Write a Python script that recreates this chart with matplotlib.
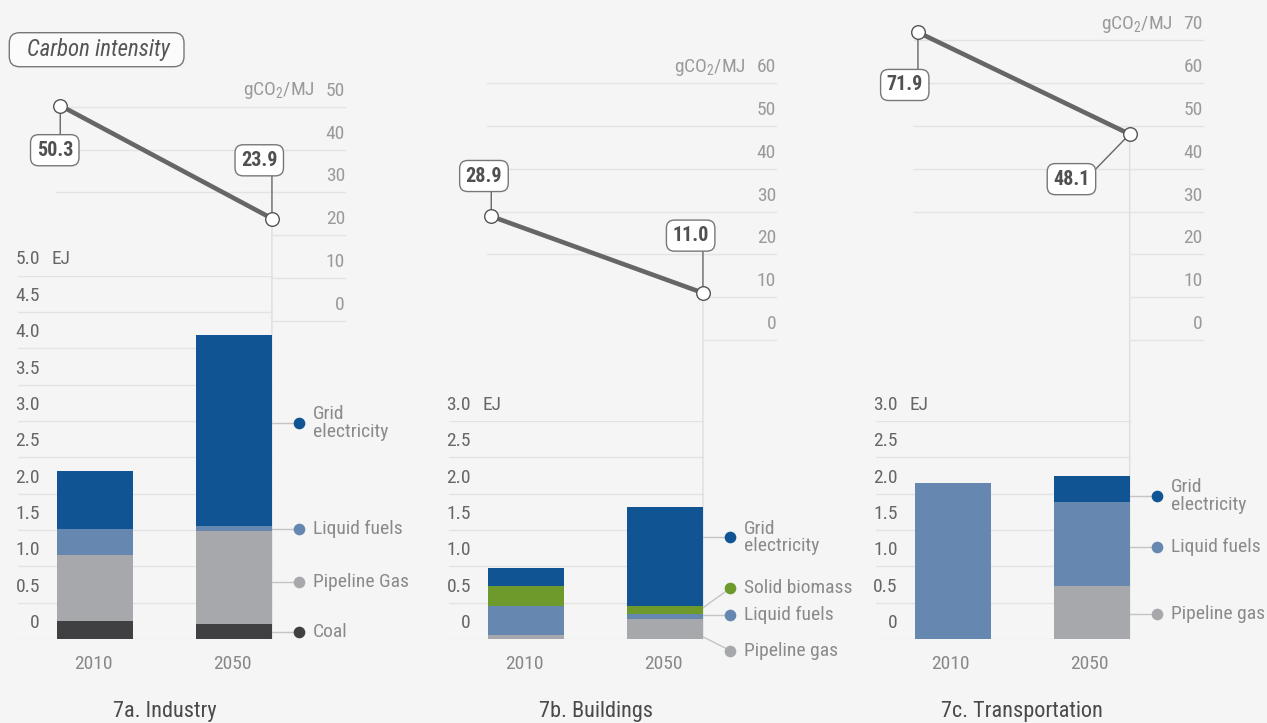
import matplotlib
matplotlib.use('Agg')
import matplotlib.pyplot as plt
from matplotlib import font_manager as fm
from matplotlib.patches import FancyBboxPatch, ConnectionPatch
import matplotlib.transforms as mtransforms

# ---------------- data ----------------
years = ['2010', '2050']

industry_coal = [0.25, 0.21]
industry_gas = [0.905, 1.275]
industry_liquid = [0.36, 0.07]
industry_grid = [0.80, 2.62]
industry_intensity = [50.3, 23.9]

buildings_gas = [0.055, 0.28]
buildings_liquid = [0.40, 0.07]
buildings_biomass = [0.27, 0.105]
buildings_grid = [0.25, 1.36]
buildings_intensity = [28.9, 11.0]

transport_gas = [0.0, 0.73]
transport_liquid = [2.14, 1.155]
transport_grid = [0.0, 0.36]
transport_intensity = [71.9, 48.1]

panel_titles = ['7a. Industry', '7b. Buildings', '7c. Transportation']
energy_ticks_a = [0, 0.5, 1.0, 1.5, 2.0, 2.5, 3.0, 3.5, 4.0, 4.5, 5.0]
energy_ticks_bc = [0, 0.5, 1.0, 1.5, 2.0, 2.5, 3.0]
intensity_ticks_a = [0, 10, 20, 30, 40, 50]
intensity_ticks_b = [0, 10, 20, 30, 40, 50, 60]
intensity_ticks_c = [0, 10, 20, 30, 40, 50, 60, 70]

# ---------------- style ----------------
BG = '#f5f5f5'
C_GRID = '#115493'
C_LIQ = '#6687b0'
C_GAS = '#a7a8ab'
C_COAL = '#404042'
C_BIO = '#6e9a2b'
GRIDLINE = '#e3e3e3'


def pick_font():
    for name in ['Liberation Sans Narrow', 'Roboto Condensed']:
        try:
            fm.findfont(fm.FontProperties(family=name), fallback_to_default=False)
            return name, 1.0
        except Exception:
            pass
    return 'Roboto', 0.85


FONT, FS = pick_font()
plt.rcParams['font.family'] = [FONT, 'DejaVu Sans']
plt.rcParams['mathtext.default'] = 'regular'

W, H = 1267, 723
fig = plt.figure(figsize=(W / 100, H / 100), dpi=100, facecolor=BG)

PX_EJ = 72.7       # pixels per EJ
PX_I = 4.28        # pixels per gCO2/MJ
PX_CAT = 139.0     # pixels per category step
X_LEFT = -0.554
BAR_W = 0.547
BAR_AX_W = 255
LINE_AX_W = 327
BOTTOM = 639


def place(left, top, width, height):
    return fig.add_axes([left / W, 1 - (top + height) / H, width / W, height / H])


def clean(ax):
    ax.set_facecolor('none')
    for s in ax.spines.values():
        s.set_visible(False)
    ax.set_xticks([])
    ax.set_yticks([])


panels = [
    dict(x0=18, ymax=5.0, eticks=energy_ticks_a, yzero=320.8, iticks=intensity_ticks_a,
         full_min=30, intensity=industry_intensity, title=panel_titles[0],
         stack=[(industry_coal, C_COAL), (industry_gas, C_GAS),
                (industry_liquid, C_LIQ), (industry_grid, C_GRID)],
         legend=[('Grid\nelectricity', C_GRID, 2.97, 2.97),
                 ('Liquid fuels', C_LIQ, 1.517, 1.517),
                 ('Pipeline Gas', C_GAS, 0.79, 0.79),
                 ('Coal', C_COAL, 0.096, 0.096)],
         boxes=[((-5.5, -44.7), (0, -44.7)), ((-12.7, 58.2), (0, 58.2))]),
    dict(x0=449, ymax=3.0, eticks=energy_ticks_bc, yzero=340, iticks=intensity_ticks_b,
         full_min=20, intensity=buildings_intensity, title=panel_titles[1],
         stack=[(buildings_gas, C_GAS), (buildings_liquid, C_LIQ),
                (buildings_biomass, C_BIO), (buildings_grid, C_GRID)],
         legend=[('Grid\nelectricity', C_GRID, 1.40, 1.40),
                 ('Solid biomass', C_BIO, 0.70, 0.43),
                 ('Liquid fuels', C_LIQ, 0.33, 0.33),
                 ('Pipeline gas', C_GAS, -0.16, 0.03)],
         boxes=[((-7.3, 40.3), (0, 40.3)), ((-12.3, 57.3), (0, 57.3))]),
    dict(x0=875.7, ymax=3.0, eticks=energy_ticks_bc, yzero=340, iticks=intensity_ticks_c,
         full_min=30, intensity=transport_intensity, title=panel_titles[2],
         stack=[(transport_gas, C_GAS), (transport_liquid, C_LIQ),
                (transport_grid, C_GRID)],
         legend=[('Grid\nelectricity', C_GRID, 1.967, 1.967),
                 ('Liquid fuels', C_LIQ, 1.27, 1.27),
                 ('Pipeline gas', C_GAS, 0.344, 0.344)],
         boxes=[((-13.2, -52.7), (0, -52.7)), ((-58.2, -45.0), (-42, -43.2))]),
]

X_PT = [-0.25, 1.273]   # horizontal anchor of the intensity points
X_RIGHT_EDGE = 1.0 + BAR_W / 2
DOT_X = 1.47
TXT_X = 1.57

for p in panels:
    x0 = p['x0']
    ymax = p['ymax']
    hb = ymax * PX_EJ
    axb = place(x0, BOTTOM - hb, BAR_AX_W, hb)
    clean(axb)
    axb.set_xlim(X_LEFT, X_LEFT + BAR_AX_W / PX_CAT)
    axb.set_ylim(0, ymax)
    tb = mtransforms.blended_transform_factory(axb.transAxes, axb.transData)

    for v in p['eticks']:
        axb.axhline(v, color=GRIDLINE, lw=1, zorder=0)
        lab = '0' if v == 0 else f'{v:.1f}'
        axb.annotate(lab, xy=(0.086, v), xycoords=tb, xytext=(0, 16),
                     textcoords='offset pixels', ha='right', va='center',
                     fontsize=14 * FS, color='#666666', annotation_clip=False)
    axb.annotate('EJ', xy=(0.131, ymax), xycoords=tb, xytext=(0, 16),
                 textcoords='offset pixels', ha='left', va='center',
                 fontsize=14 * FS, color='#666666', annotation_clip=False)

    xs = list(range(len(years)))
    bottoms = [0.0] * len(years)
    for vals, col in p['stack']:
        axb.bar(xs, vals, width=BAR_W, bottom=bottoms, color=col, zorder=2, linewidth=0)
        bottoms = [b + v for b, v in zip(bottoms, vals)]

    for i, yr in enumerate(years):
        axb.annotate(yr, xy=(i, 0), xytext=(-2, -25), textcoords='offset pixels',
                     ha='center', va='center', fontsize=14 * FS, color='#888888',
                     annotation_clip=False)
    axb.annotate(p['title'], xy=(0.5, 0), xytext=(0, -72), textcoords='offset pixels',
                 ha='center', va='center', fontsize=16 * FS, color='#4a4a4a',
                 annotation_clip=False)

    for lab, col, ylab, yfrom in p['legend']:
        axb.plot([X_RIGHT_EDGE, DOT_X], [yfrom, ylab], color='#c4c4c4', lw=1,
                 clip_on=False, zorder=1)
        axb.plot([DOT_X], [ylab], 'o', ms=8.4, color=col, mec='none',
                 clip_on=False, zorder=3)
        axb.text(TXT_X, ylab, lab, ha='left', va='center', fontsize=14 * FS,
                 color='#8a8a8a', linespacing=0.95, clip_on=False)

    # ---- intensity line axes ----
    imax = p['iticks'][-1]
    hl = imax * PX_I
    axl = place(x0, p['yzero'] - hl, LINE_AX_W, hl)
    clean(axl)
    xr_lim = X_LEFT + LINE_AX_W / PX_CAT
    axl.set_xlim(X_LEFT, xr_lim)
    axl.set_ylim(0, imax)
    tl = mtransforms.blended_transform_factory(axl.transAxes, axl.transData)
    for v in p['iticks']:
        start = -0.28 if v >= p['full_min'] else X_PT[1]
        axl.plot([start, xr_lim], [v, v], color=GRIDLINE, lw=1, zorder=0, clip_on=False)
        axl.annotate(str(v), xy=(1.0, v), xycoords=tl, xytext=(0, 16),
                     textcoords='offset pixels', ha='right', va='center',
                     fontsize=14 * FS, color='#9a9a9a', annotation_clip=False)
    axl.annotate('gCO$_2$/MJ', xy=(0.908, imax), xycoords=tl, xytext=(0, 16),
                 textcoords='offset pixels', ha='right', va='center',
                 fontsize=14 * FS, color='#9a9a9a', annotation_clip=False)

    vals = p['intensity']
    con = ConnectionPatch(xyA=(X_PT[1], vals[1]), coordsA=axl.transData,
                          xyB=(X_PT[1], 0), coordsB=axb.transData,
                          color='#dedede', lw=1, zorder=0)
    axb.add_artist(con)

    axl.plot(X_PT, vals, color='#666666', lw=3.3, solid_capstyle='butt',
             zorder=3, clip_on=False)
    for i, v in enumerate(vals):
        (bdx, bdy), (cdx, cdy) = p['boxes'][i]
        axl.annotate('', xy=(X_PT[i], v), xytext=(cdx, cdy), textcoords='offset pixels',
                     arrowprops=dict(arrowstyle='-', color='#666666', lw=1,
                                     shrinkA=0, shrinkB=0),
                     annotation_clip=False, zorder=2)
        axl.annotate(f'{v:.1f}', xy=(X_PT[i], v), xytext=(bdx, bdy),
                     textcoords='offset pixels', ha='center', va='center',
                     fontsize=14.5 * FS, fontweight='bold', color='#505050',
                     bbox=dict(boxstyle='round,pad=0.3,rounding_size=0.4',
                               fc='white', ec='#777777', lw=1),
                     annotation_clip=False, zorder=5)
    axl.plot(X_PT, vals, 'o', ms=9.8, mfc='white', mec='#555555', mew=1,
             zorder=4, clip_on=False)

# ---- "Carbon intensity" tag ----
box = FancyBboxPatch((9.3 / W, 1 - 66.7 / H), (184 - 9.3) / W, 34 / H,
                     boxstyle='round,pad=0,rounding_size=0.008',
                     transform=fig.transFigure, fc='#fbfbfb', ec='#777777', lw=1,
                     mutation_aspect=W / H)
fig.add_artist(box)
fig.text(98 / W, 1 - 49.7 / H, 'Carbon intensity', ha='center', va='center',
         fontsize=16.5 * FS, style='italic', color='#555555')

fig.savefig('out.png', dpi=100, facecolor=BG)
